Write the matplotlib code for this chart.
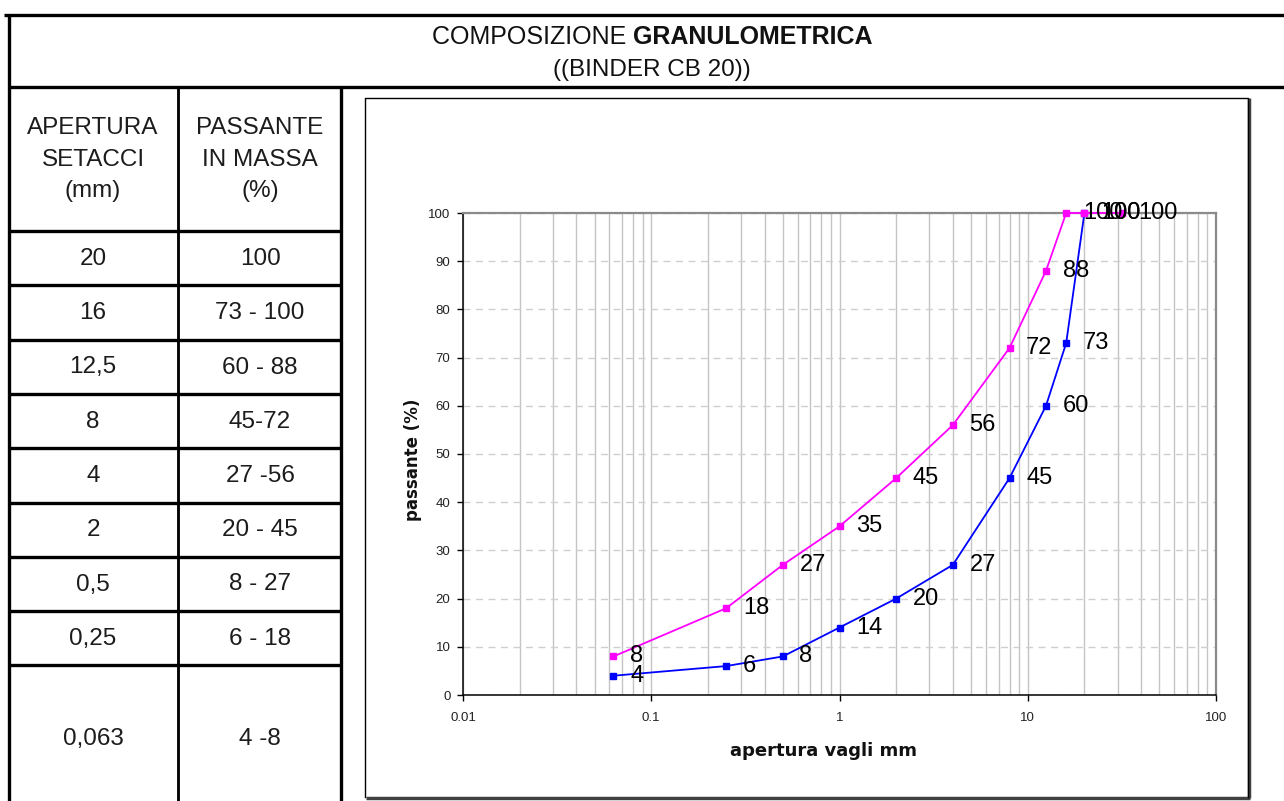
import matplotlib
matplotlib.use("Agg")
import matplotlib.pyplot as plt
from matplotlib import font_manager
from matplotlib.ticker import FixedLocator, FuncFormatter, LogLocator, NullFormatter

# ---------------- data ----------------
title_normal = "COMPOSIZIONE "
title_bold = "GRANULOMETRICA"
subtitle = "((BINDER CB 20))"
header_col1 = ["APERTURA", "SETACCI", "(mm)"]
header_col2 = ["PASSANTE", "IN MASSA", "(%)"]
aperture_labels = ["20", "16", "12,5", "8", "4", "2", "0,5", "0,25", "0,063"]
passante_labels = ["100", "73 - 100", "60 - 88", "45-72", "27 -56", "20 - 45", "8 - 27", "6 - 18", "4 -8"]

x_upper = [0.063, 0.25, 0.5, 1, 2, 4, 8, 12.5, 16, 20, 31.5]
y_upper = [8, 18, 27, 35, 45, 56, 72, 88, 100, 100, 100]
x_lower = [0.063, 0.25, 0.5, 1, 2, 4, 8, 12.5, 16, 20]
y_lower = [4, 6, 8, 14, 20, 27, 45, 60, 73, 100]

y_ticks = [0, 10, 20, 30, 40, 50, 60, 70, 80, 90, 100]
x_ticks = [0.01, 0.1, 1, 10, 100]
x_tick_labels = ["0.01", "0.1", "1", "10", "100"]
x_label = "apertura vagli mm"
y_label = "passante (%)"

# ---------------- fonts ----------------
names = {f.name for f in font_manager.fontManager.ttflist}
narrow = "Liberation Sans Narrow" if "Liberation Sans Narrow" in names else "Liberation Sans"
SANS = "Liberation Sans"

W, H = 1284, 801
fig = plt.figure(figsize=(W / 100, H / 100), dpi=100)

# overlay axes in pixel coords
ov = fig.add_axes([0, 0, 1, 1])
ov.set_xlim(0, W)
ov.set_ylim(H, 0)
ov.axis("off")

blk = "#000000"
lw_frame = 2.4
# outer frame lines
ov.plot([4, W], [15, 15], color=blk, lw=lw_frame, solid_capstyle="butt")
ov.plot([8.5, 8.5], [14, H], color=blk, lw=lw_frame, solid_capstyle="butt")
ov.plot([8, W], [86.5, 86.5], color=blk, lw=lw_frame, solid_capstyle="butt")
ov.plot([177.5, 177.5], [86, H], color=blk, lw=lw_frame * 0.85, solid_capstyle="butt")
ov.plot([341, 341], [86, H], color=blk, lw=lw_frame, solid_capstyle="butt")
row_lines = [230.5, 285, 339.5, 393.5, 448, 502.5, 556.5, 610.5, 665]
for yl in row_lines:
    ov.plot([8, 341], [yl, yl], color=blk, lw=lw_frame, solid_capstyle="butt")

# title
fs_title = 18 if narrow == "Liberation Sans" else 20
t1 = ov.text(0, 0, title_normal, fontsize=fs_title, family=narrow, color="#111111", va="center", ha="left")
t2 = ov.text(0, 0, title_bold, fontsize=fs_title, family=narrow, fontweight="bold", color="#111111", va="center", ha="left")
fig.canvas.draw()
r = fig.canvas.get_renderer()
w1 = t1.get_window_extent(r).width
w2 = t2.get_window_extent(r).width
start = 652 - (w1 + w2) / 2
t1.set_position((start, 37))
t2.set_position((start + w1, 37))
ov.text(652, 70, subtitle, fontsize=17.5, family=narrow, color="#111111", va="center", ha="center")

# table text
tcol = "#1c1c1c"
fs_tab = 17.5
for i, (a, b) in enumerate(zip(header_col1, header_col2)):
    yy = 128 + i * 31.5
    ov.text(93, yy, a, fontsize=fs_tab, family=SANS, color=tcol, ha="center", va="center")
    ov.text(260, yy, b, fontsize=fs_tab, family=SANS, color=tcol, ha="center", va="center")
row_bounds = row_lines + [810]
for i, (a, b) in enumerate(zip(aperture_labels, passante_labels)):
    yc = (row_bounds[i] + row_bounds[i + 1]) / 2 + 1
    if i == len(aperture_labels) - 1:
        yc = 739
    ov.text(93, yc, a, fontsize=fs_tab, family=SANS, color=tcol, ha="center", va="center")
    ov.text(260, yc, b, fontsize=fs_tab, family=SANS, color=tcol, ha="center", va="center")

# chart box (with shadow)
ov.plot([1249, 1249], [98, 798], color="#404040", lw=2.5, solid_capstyle="butt")
ov.plot([366, 1250], [798, 798], color="#404040", lw=2.5, solid_capstyle="butt")
ov.plot([365, 365, 1248, 1248], [797, 97.5, 97.5, 797], color=blk, lw=1.0)

# ---------------- chart ----------------
L, R, T, B = 463, 1216, 213, 695
ax = fig.add_axes([L / W, 1 - B / H, (R - L) / W, (B - T) / H])
ax.set_xscale("log")
ax.set_xlim(0.01, 100)
ax.set_ylim(0, 100)

ax.xaxis.set_major_locator(FixedLocator(x_ticks))
ax.xaxis.set_major_formatter(FuncFormatter(lambda v, p: x_tick_labels[x_ticks.index(v)] if v in x_ticks else ""))
ax.xaxis.set_minor_locator(LogLocator(base=10, subs=range(2, 10)))
ax.xaxis.set_minor_formatter(NullFormatter())
ax.set_yticks(y_ticks)

ax.grid(True, which="both", axis="x", color="#c4c4c4", lw=1.0, ls="-")
ax.grid(True, which="major", axis="y", color="#cfcfcf", lw=1.0, ls=(0, (5, 4)))
ax.set_axisbelow(True)

for s in ["top", "right"]:
    ax.spines[s].set_color("#8a8a8a")
    ax.spines[s].set_linewidth(1.6)
for s in ["left", "bottom"]:
    ax.spines[s].set_color("#000000")
    ax.spines[s].set_linewidth(1.1)

ax.tick_params(axis="both", which="major", direction="out", length=4, width=1, color="#000000",
               labelsize=9.5, labelcolor="#222222", pad=5)
ax.tick_params(axis="x", which="minor", length=0)
ax.tick_params(axis="x", which="major", pad=8)
for lab in ax.get_xticklabels() + ax.get_yticklabels():
    lab.set_family(SANS)

ax.plot(x_lower, y_lower, color="#0000FF", lw=1.3, marker="s", markersize=5, zorder=3, clip_on=False)
ax.plot(x_upper, y_upper, color="#FF00FF", lw=1.3, marker="s", markersize=5, zorder=4, clip_on=False)

for xs, ys in [(x_lower, y_lower), (x_upper, y_upper)]:
    for xv, yv in zip(xs, ys):
        ax.annotate(str(yv), (xv, yv), xytext=(12, 0), textcoords="offset points",
                    ha="left", va="center", fontsize=17, family=SANS, color="#000000",
                    annotation_clip=False, zorder=5)

fig.text(824 / W, 1 - 751 / H, x_label, fontsize=13, fontweight="bold", family="DejaVu Sans",
         ha="center", va="center", color="#111111")
fig.text(413 / W, 1 - 460 / H, y_label, fontsize=12, fontweight="bold", family="DejaVu Sans",
         ha="center", va="center", rotation=90, color="#111111")

fig.savefig("out.png", dpi=100)
